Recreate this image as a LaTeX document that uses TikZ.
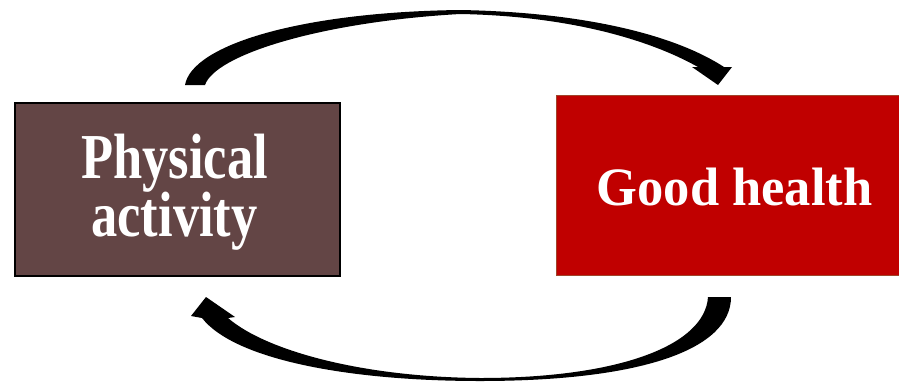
\documentclass[tikz,border=0pt]{standalone}
\usepackage{fontspec}
\setmainfont{Liberation Serif}
\definecolor{pabrown}{HTML}{634545}
\definecolor{ghred}{HTML}{C00000}
\definecolor{ghedge}{HTML}{A0442A}
\begin{document}
\begin{tikzpicture}[x=1pt,y=-1pt,
  boxlabel/.style={text=white,font=\fontsize{52.5}{47.9}\selectfont\bfseries,inner sep=0pt},
  curvedarrow/.style={fill=black,draw=none}]
\useasboundingbox (0,0) rectangle (899,381);
% boxes
\node[draw=black,line width=1.6pt,fill=pabrown,minimum width=325pt,minimum height=173pt,anchor=north west,inner sep=0pt] (pa) at (14,102) {};
\node[draw=ghedge,line width=0.8pt,fill=ghred,minimum width=350pt,minimum height=180pt,anchor=north west,inner sep=0pt] (gh) at (556,95) {};
% labels
\node[boxlabel,anchor=base] (patext) at (174.5,178.3) {\scalebox{1}[1.22]{\parbox[t]{300pt}{\centering\lineskiplimit=-100pt Physical\\activity}}};
\node[boxlabel,anchor=base] (ghtext) at (734.5,205) {\scalebox{1}[1.03]{Good health}};
% top curved arrow (from Physical activity to Good health)
\coordinate (ta) at (185,85);
\coordinate (tb) at (205,85);
\fill[curvedarrow] (ta) .. controls (192,45) and (300,12) .. (460,10)
  .. controls (575,12) and (670,32) .. (724,67)
  -- (732,67) -- (718,85) -- (692,67) -- (698,67)
  .. controls (650,40) and (570,16) .. (460,14)
  .. controls (320,22) and (215,55) .. (tb) -- cycle;
% bottom curved arrow (from Good health to Physical activity)
\coordinate (ba) at (731,297);
\coordinate (bb) at (708,297);
\fill[curvedarrow] (ba) .. controls (731,350) and (640,381) .. (480,381)
  .. controls (350,381) and (235,360) .. (202,318)
  -- (191,316) -- (206,297) -- (235,317) -- (228,318)
  .. controls (265,350) and (360,377) .. (480,378)
  .. controls (620,378) and (705,345) .. (bb) -- cycle;
\end{tikzpicture}
\end{document}
